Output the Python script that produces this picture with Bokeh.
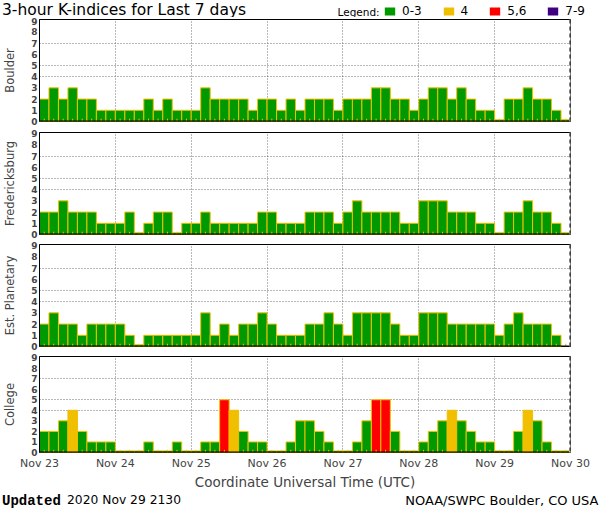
from bokeh.plotting import figure
from bokeh.layouts import column
from bokeh.models import (Range1d, FixedTicker, Span, Label, Legend, LegendItem,
                          ColumnDataSource)
from bokeh.embed import file_html
from bokeh.resources import INLINE

# ---------------- data ----------------
day_labels = ["Nov 23", "Nov 24", "Nov 25", "Nov 26", "Nov 27", "Nov 28", "Nov 29", "Nov 30"]
stations = ["Boulder", "Fredericksburg", "Est. Planetary", "College"]

boulder = [2, 3, 2, 3, 2, 2, 1, 1,
           1, 1, 1, 2, 1, 2, 1, 1,
           1, 3, 2, 2, 2, 2, 1, 2,
           2, 1, 2, 1, 2, 2, 2, 1,
           2, 2, 2, 3, 3, 2, 2, 1,
           2, 3, 3, 2, 3, 2, 1, 1,
           0, 2, 2, 3, 2, 2, 1, 0]
fredericksburg = [2, 2, 3, 2, 2, 2, 1, 1,
                  1, 2, 0, 1, 2, 2, 0, 1,
                  1, 2, 1, 1, 1, 1, 1, 2,
                  2, 1, 1, 1, 2, 2, 2, 1,
                  2, 3, 2, 2, 2, 2, 1, 1,
                  3, 3, 3, 2, 2, 2, 1, 1,
                  0, 2, 2, 3, 2, 2, 1, 0]
planetary = [2, 3, 2, 2, 1, 2, 2, 2,
             2, 1, 0, 1, 1, 1, 1, 1,
             1, 3, 1, 2, 1, 2, 2, 3,
             2, 1, 1, 1, 2, 2, 3, 2,
             1, 3, 3, 3, 3, 2, 1, 1,
             3, 3, 3, 2, 2, 2, 2, 2,
             1, 2, 3, 2, 2, 2, 1, None]
college = [2, 2, 3, 4, 2, 1, 1, 1,
           0, 0, 0, 1, 0, 0, 1, 0,
           0, 1, 1, 5, 4, 2, 1, 1,
           0, 0, 1, 3, 3, 2, 1, 0,
           0, 1, 3, 5, 5, 2, 0, 0,
           1, 2, 3, 4, 3, 2, 1, 1,
           0, 0, 2, 4, 3, 1, 0, 0]
series = [boulder, fredericksburg, planetary, college]

legend_labels = ["0-3", "4", "5,6", "7-9"]
legend_colors = ["#009900", "#f0c000", "#ff0000", "#400080"]
EDGE = "#f0c000"

title_text = "3-hour K-indices for Last 7 days"
legend_word = "Legend:"
xaxis_title = "Coordinate Universal Time (UTC)"
updated_word = "Updated"
updated_stamp = "2020 Nov 29 2130"
credit = "NOAA/SWPC Boulder, CO USA"

FONT = "DejaVu Sans"
W = 600
LEFT = 36
RIGHT = 30
PH = 102
NBARS = len(boulder)
YMAX = 9.1
ZERO_H = 0.15
HEAD_H = 17
FOOT_H = 18


def kcolor(k):
    if k <= 3:
        return legend_colors[0]
    if k == 4:
        return legend_colors[1]
    if k <= 6:
        return legend_colors[2]
    return legend_colors[3]


def blank_fig(h):
    f = figure(width=W, height=h, x_range=Range1d(0, 1), y_range=Range1d(0, 1),
               output_backend="svg", toolbar_location=None,
               x_axis_location=None, y_axis_location=None,
               min_border=0, min_border_left=0, min_border_right=0,
               min_border_top=0, min_border_bottom=0,
               outline_line_color=None, background_fill_color="white",
               border_fill_color="white")
    f.xgrid.visible = False
    f.ygrid.visible = False
    return f


def make_panel(name, vals, top_b, bot_b, show_x):
    p = figure(width=W, height=top_b + PH + bot_b,
               x_range=Range1d(0, NBARS), y_range=Range1d(0, YMAX),
               output_backend="svg", toolbar_location=None,
               min_border_left=LEFT, min_border_right=RIGHT,
               min_border_top=top_b, min_border_bottom=bot_b,
               outline_line_color="black", outline_line_width=1,
               background_fill_color="white", border_fill_color="white")

    xs, tops, cols = [], [], []
    for i, v in enumerate(vals):
        if v is None:
            continue
        xs.append(i + 0.5)
        tops.append(v if v > 0 else ZERO_H)
        cols.append(kcolor(v))
    src = ColumnDataSource(dict(x=xs, top=tops, color=cols))
    p.vbar(x="x", top="top", bottom=0, width=1, fill_color="color",
           line_color=EDGE, line_width=1, source=src)
    # small 3-hour tick marks at the base of each bar
    tick_x = [i + 0.5 for i in range(NBARS)]
    p.segment(x0=tick_x, y0=[0] * NBARS, x1=tick_x, y1=[0.25] * NBARS,
              line_color=EDGE, line_width=1)

    # grids
    p.xgrid.ticker = FixedTicker(ticks=[8 * d for d in range(1, 7)])
    p.ygrid.ticker = FixedTicker(ticks=[4, 5, 7])
    for g in (p.xgrid, p.ygrid):
        g.grid_line_color = "#707070"
        g.grid_line_dash = "1 2"
        g.grid_line_width = 1

    # y axis
    ya = p.yaxis[0]
    ya.ticker = FixedTicker(ticks=list(range(10)))
    ya.major_tick_out = 0
    ya.major_tick_in = 0
    ya.minor_tick_out = 0
    ya.minor_tick_in = 0
    ya.axis_line_color = "black"
    ya.major_label_text_font = FONT
    ya.major_label_text_font_size = "9px"
    ya.major_label_text_font_style = "bold"
    ya.major_label_standoff = 2
    ya.axis_label = name
    ya.axis_label_text_font = FONT
    ya.axis_label_text_font_size = "11.5px"
    ya.axis_label_text_font_style = "normal"
    ya.axis_label_standoff = 11

    # x axis
    xa = p.xaxis[0]
    if show_x:
        xa.ticker = FixedTicker(ticks=[8 * d for d in range(8)])
        xa.major_label_overrides = {8 * d: day_labels[d] for d in range(8)}
        xa.major_tick_out = 0
        xa.major_tick_in = 0
        xa.minor_tick_out = 0
        xa.minor_tick_in = 0
        xa.axis_line_color = None
        xa.major_label_text_font = FONT
        xa.major_label_text_font_size = "11px"
        xa.major_label_standoff = 4
        xa.axis_label = xaxis_title
        xa.axis_label_text_font = FONT
        xa.axis_label_text_font_size = "13.5px"
        xa.axis_label_text_font_style = "normal"
        xa.axis_label_standoff = 1
    else:
        xa.visible = False

    # frame edges: thick base, dashed right side
    p.add_layout(Span(location=0, dimension="width", line_color="black", line_width=2))
    p.add_layout(Span(location=NBARS, dimension="height", line_color="white", line_width=3))
    p.add_layout(Span(location=NBARS, dimension="height", line_color="black",
                      line_width=2, line_dash="4 3"))
    return p


# ---------------- header (title + legend) ----------------
head = blank_fig(HEAD_H)
head.add_layout(Label(x=1.5, y=8, x_units="screen", y_units="screen",
                      text=title_text, text_font=FONT, text_font_size="15.5px",
                      text_baseline="middle", text_color="black"))
head.add_layout(Label(x=337, y=5.8, x_units="screen", y_units="screen",
                      text=legend_word, text_font=FONT, text_font_size="10.5px",
                      text_baseline="middle", text_color="black"))
items = []
nan = float("nan")
for lab, col in zip(legend_labels, legend_colors):
    r = head.rect(x=[nan], y=[nan], width=1, height=1, fill_color=col, line_color=None)
    items.append(LegendItem(label=lab, renderers=[r]))
leg = Legend(items=items, orientation="horizontal", location=(383, -1),
             glyph_width=13, glyph_height=10, label_width=0, label_height=10,
             label_standoff=6, spacing=20, padding=0, margin=0,
             border_line_color=None, background_fill_alpha=0,
             label_text_font=FONT, label_text_font_size="12px",
             label_text_color="black")
head.add_layout(leg, "center")

# ---------------- panels ----------------
tops_b = [2, 6, 5, 5]
bots_b = [5, 5, 5, 34]
panels = []
for k in range(4):
    panels.append(make_panel(stations[k], series[k], tops_b[k], bots_b[k], k == 3))

# ---------------- footer ----------------
foot = blank_fig(FOOT_H)
foot.add_layout(Label(x=1.5, y=9.7, x_units="screen", y_units="screen",
                      text=updated_word, text_font="Liberation Mono", text_font_style="bold",
                      text_font_size="14px", text_baseline="middle", text_color="black"))
foot.add_layout(Label(x=66.5, y=10.3, x_units="screen", y_units="screen",
                      text=updated_stamp, text_font=FONT,
                      text_font_size="12.3px", text_baseline="middle", text_color="black"))
foot.add_layout(Label(x=598, y=10.5, x_units="screen", y_units="screen",
                      text=credit, text_font=FONT, text_align="right",
                      text_font_size="13px", text_baseline="middle", text_color="black"))

layout = column(head, column(*panels, spacing=0), foot, spacing=0)
open("out.html", "w").write(file_html(layout, INLINE))
